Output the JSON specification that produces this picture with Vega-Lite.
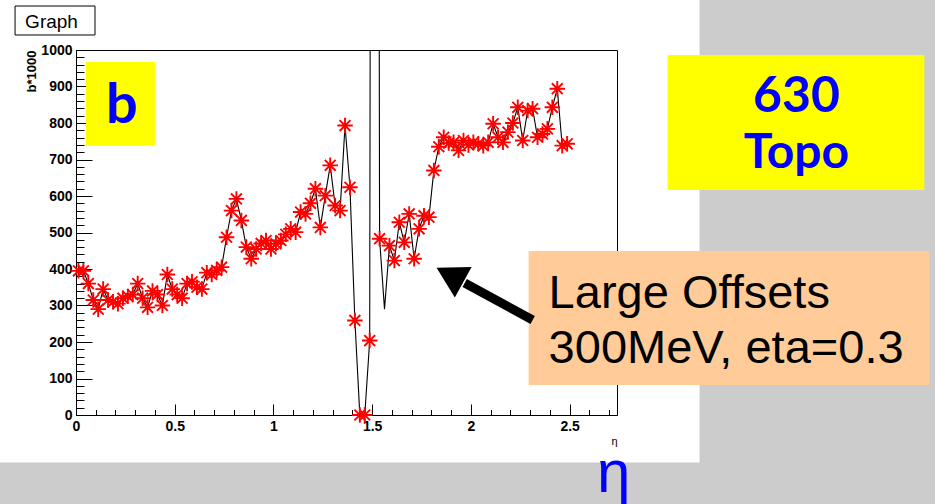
{
  "$schema": "https://vega.github.io/schema/vega-lite/v6.json",
  "width": 541,
  "height": 365,
  "autosize": "none",
  "padding": {"left": 76, "top": 50, "right": 318, "bottom": 89},
  "background": "white",
  "config": {
    "view": {"stroke": "black", "strokeWidth": 1},
    "axis": {"grid": false, "domainColor": "black", "tickColor": "black", "labelColor": "black", "titleColor": "black", "labelFont": "Liberation Sans", "titleFont": "Liberation Sans", "labelFontWeight": "bold", "labelFontSize": 14, "tickWidth": 1, "domainWidth": 1},
    "text": {"font": "Liberation Sans"}
  },
  "datasets": {
    "one": [{}],
    "graph": [
      {"eta": 0.0125, "b": 395}, {"eta": 0.0375, "b": 395}, {"eta": 0.0625, "b": 360}, {"eta": 0.0875, "b": 315},
      {"eta": 0.1125, "b": 290}, {"eta": 0.1375, "b": 345}, {"eta": 0.1625, "b": 315}, {"eta": 0.1875, "b": 310},
      {"eta": 0.2125, "b": 305}, {"eta": 0.2375, "b": 320}, {"eta": 0.2625, "b": 325}, {"eta": 0.2875, "b": 330},
      {"eta": 0.3125, "b": 360}, {"eta": 0.3375, "b": 320}, {"eta": 0.3625, "b": 295}, {"eta": 0.3875, "b": 340},
      {"eta": 0.4125, "b": 330}, {"eta": 0.4375, "b": 300}, {"eta": 0.4625, "b": 385}, {"eta": 0.4875, "b": 345},
      {"eta": 0.5125, "b": 330}, {"eta": 0.5375, "b": 320}, {"eta": 0.5625, "b": 360}, {"eta": 0.5875, "b": 365},
      {"eta": 0.6125, "b": 350}, {"eta": 0.6375, "b": 345}, {"eta": 0.6625, "b": 390}, {"eta": 0.6875, "b": 385},
      {"eta": 0.7125, "b": 396}, {"eta": 0.7375, "b": 405}, {"eta": 0.7625, "b": 487}, {"eta": 0.7875, "b": 560},
      {"eta": 0.8125, "b": 592}, {"eta": 0.8375, "b": 533}, {"eta": 0.8625, "b": 460}, {"eta": 0.8875, "b": 428},
      {"eta": 0.9125, "b": 455}, {"eta": 0.9375, "b": 470}, {"eta": 0.9625, "b": 478}, {"eta": 0.9875, "b": 455},
      {"eta": 1.0125, "b": 469}, {"eta": 1.0375, "b": 478}, {"eta": 1.0625, "b": 495}, {"eta": 1.0875, "b": 510},
      {"eta": 1.1125, "b": 501}, {"eta": 1.1375, "b": 556}, {"eta": 1.1625, "b": 551}, {"eta": 1.1875, "b": 580},
      {"eta": 1.2125, "b": 620}, {"eta": 1.2375, "b": 514}, {"eta": 1.2625, "b": 601}, {"eta": 1.2875, "b": 684},
      {"eta": 1.3125, "b": 574}, {"eta": 1.3375, "b": 560}, {"eta": 1.3625, "b": 793}, {"eta": 1.3875, "b": 624},
      {"eta": 1.4125, "b": 259}, {"eta": 1.4375, "b": 0}, {"eta": 1.4625, "b": 0}, {"eta": 1.4875, "b": 204},
      {"eta": 1.5125, "b": 9000}, {"eta": 1.5375, "b": 483}, {"eta": 1.5625, "b": 290}, {"eta": 1.5875, "b": 464},
      {"eta": 1.6125, "b": 423}, {"eta": 1.6375, "b": 528}, {"eta": 1.6625, "b": 473}, {"eta": 1.6875, "b": 551},
      {"eta": 1.7125, "b": 428}, {"eta": 1.7375, "b": 510}, {"eta": 1.7625, "b": 546}, {"eta": 1.7875, "b": 542},
      {"eta": 1.8125, "b": 670}, {"eta": 1.8375, "b": 735}, {"eta": 1.8625, "b": 761}, {"eta": 1.8875, "b": 745},
      {"eta": 1.9125, "b": 747}, {"eta": 1.9375, "b": 725}, {"eta": 1.9625, "b": 752}, {"eta": 1.9875, "b": 740},
      {"eta": 2.0125, "b": 747}, {"eta": 2.0375, "b": 743}, {"eta": 2.0625, "b": 738}, {"eta": 2.0875, "b": 747},
      {"eta": 2.1125, "b": 798}, {"eta": 2.1375, "b": 761}, {"eta": 2.1625, "b": 747}, {"eta": 2.1875, "b": 775},
      {"eta": 2.2125, "b": 800}, {"eta": 2.2375, "b": 843}, {"eta": 2.2625, "b": 752}, {"eta": 2.2875, "b": 834},
      {"eta": 2.3125, "b": 839}, {"eta": 2.3375, "b": 761}, {"eta": 2.3625, "b": 770}, {"eta": 2.3875, "b": 784},
      {"eta": 2.4125, "b": 843}, {"eta": 2.4375, "b": 894}, {"eta": 2.4625, "b": 738}, {"eta": 2.4875, "b": 743}
    ]
  },
  "resolve": {"axis": {"x": "independent", "y": "independent"}},
  "layer": [
    {
      "data": {"name": "one"},
      "mark": {"type": "rect", "color": "#cccccc"},
      "encoding": {
        "x": {"datum": 3.158, "type": "quantitative", "axis": null, "scale": {"domain": [0, 2.74], "nice": false, "zero": false}},
        "x2": {"datum": 4.45},
        "y": {"datum": -260, "type": "quantitative", "axis": null, "scale": {"domain": [0, 1000], "nice": false, "zero": false}},
        "y2": {"datum": 1150}
      }
    },
    {
      "data": {"name": "one"},
      "mark": {"type": "rect", "color": "#cccccc"},
      "encoding": {
        "x": {"datum": -0.45, "type": "quantitative", "axis": null},
        "x2": {"datum": 3.2},
        "y": {"datum": -130.1, "type": "quantitative", "axis": null},
        "y2": {"datum": -260}
      }
    },
    {
      "data": {"name": "graph"},
      "mark": {"type": "line", "color": "black", "strokeWidth": 1.1, "clip": true},
      "encoding": {
        "x": {"field": "eta", "type": "quantitative", "scale": {"domain": [0, 2.74], "nice": false, "zero": false},
          "axis": {"values": [0, 0.5, 1, 1.5, 2, 2.5], "format": "~g", "tickSize": -11, "labelPadding": 15, "labelFlush": false, "title": "η", "titleAnchor": "end", "titleFontSize": 11, "titleFontWeight": "normal", "titlePadding": 2}},
        "y": {"field": "b", "type": "quantitative", "scale": {"domain": [0, 1000], "nice": false, "zero": false},
          "axis": {"values": [0, 100, 200, 300, 400, 500, 600, 700, 800, 900, 1000], "format": "d", "tickSize": -16, "labelPadding": 20, "title": "b*1000", "titleAnchor": "end", "titleFontSize": 13, "titleFontWeight": "bold", "titlePadding": 2}}
      }
    },
    {
      "data": {"name": "graph"},
      "transform": [{"filter": "datum.b <= 1000 && datum.eta != 1.5625"}],
      "mark": {"type": "point", "shape": "M -1 0 L 1 0 M 0 -1 L 0 1 M -0.7 -0.7 L 0.7 0.7 M -0.7 0.7 L 0.7 -0.7", "filled": false, "stroke": "#ff0000", "strokeWidth": 1.9, "size": 240, "opacity": 1},
      "encoding": {
        "x": {"field": "eta", "type": "quantitative",
          "axis": {"orient": "bottom", "values": [0, 0.1, 0.2, 0.3, 0.4, 0.5, 0.6, 0.7, 0.8, 0.9, 1, 1.1, 1.2, 1.3, 1.4, 1.5, 1.6, 1.7, 1.8, 1.9, 2, 2.1, 2.2, 2.3, 2.4, 2.5, 2.6, 2.7], "tickSize": -5.5, "labels": false, "domain": false, "title": null}},
        "y": {"field": "b", "type": "quantitative",
          "axis": {"orient": "left", "values": [0, 20, 40, 60, 80, 100, 120, 140, 160, 180, 200, 220, 240, 260, 280, 300, 320, 340, 360, 380, 400, 420, 440, 460, 480, 500, 520, 540, 560, 580, 600, 620, 640, 660, 680, 700, 720, 740, 760, 780, 800, 820, 840, 860, 880, 900, 920, 940, 960, 980, 1000], "tickSize": -8, "labels": false, "domain": false, "title": null}}
      }
    },
    {
      "data": {"name": "one"},
      "mark": {"type": "rect", "fill": "white", "stroke": "black", "strokeWidth": 1},
      "encoding": {
        "x": {"datum": -0.3087, "type": "quantitative", "axis": null},
        "x2": {"datum": 0.0962},
        "y": {"datum": 1041.1, "type": "quantitative", "axis": null},
        "y2": {"datum": 1120.5}
      }
    },
    {
      "data": {"name": "one"},
      "mark": {"type": "text", "text": "Graph", "fontSize": 19, "align": "center", "baseline": "alphabetic", "color": "black"},
      "encoding": {
        "x": {"datum": -0.124, "type": "quantitative", "axis": null},
        "y": {"datum": 1059.5, "type": "quantitative", "axis": null}
      }
    },
    {
      "data": {"name": "one"},
      "mark": {"type": "rect", "color": "#ffff00"},
      "encoding": {
        "x": {"datum": 0.0506, "type": "quantitative", "axis": null},
        "x2": {"datum": 0.3998},
        "y": {"datum": 737.8, "type": "quantitative", "axis": null},
        "y2": {"datum": 967.1}
      }
    },
    {
      "data": {"name": "one"},
      "mark": {"type": "text", "text": "b", "font": "Lato", "fontWeight": "bold", "fontSize": 56, "align": "center", "baseline": "alphabetic", "color": "#0000ff"},
      "encoding": {
        "x": {"datum": 0.2328, "type": "quantitative", "axis": null},
        "y": {"datum": 800, "type": "quantitative", "axis": null}
      }
    },
    {
      "data": {"name": "one"},
      "mark": {"type": "rect", "color": "#ffff00"},
      "encoding": {
        "x": {"datum": 2.996, "type": "quantitative", "axis": null},
        "x2": {"datum": 4.2966},
        "y": {"datum": 616.4, "type": "quantitative", "axis": null},
        "y2": {"datum": 986.3}
      }
    },
    {
      "data": {"name": "one"},
      "mark": {"type": "text", "text": "630", "font": "Lato", "fontWeight": "bold", "fontSize": 50, "align": "center", "baseline": "alphabetic", "color": "#0000ff"},
      "encoding": {
        "x": {"datum": 3.649, "type": "quantitative", "axis": null},
        "y": {"datum": 830.1, "type": "quantitative", "axis": null}
      }
    },
    {
      "data": {"name": "one"},
      "mark": {"type": "text", "text": "Topo", "font": "Lato", "fontWeight": "bold", "fontSize": 48, "align": "center", "baseline": "alphabetic", "color": "#0000ff"},
      "encoding": {
        "x": {"datum": 3.649, "type": "quantitative", "axis": null},
        "y": {"datum": 676.7, "type": "quantitative", "axis": null}
      }
    },
    {
      "data": {"name": "one"},
      "mark": {"type": "rect", "color": "#ffcc99"},
      "encoding": {
        "x": {"datum": 2.2925, "type": "quantitative", "axis": null},
        "x2": {"datum": 4.3219},
        "y": {"datum": 82.2, "type": "quantitative", "axis": null},
        "y2": {"datum": 449.3}
      }
    },
    {
      "data": {"name": "one"},
      "mark": {"type": "text", "text": "Large Offsets", "fontSize": 47, "align": "left", "baseline": "alphabetic", "color": "black"},
      "encoding": {
        "x": {"datum": 2.3937, "type": "quantitative", "axis": null},
        "y": {"datum": 293.2, "type": "quantitative", "axis": null}
      }
    },
    {
      "data": {"name": "one"},
      "mark": {"type": "text", "text": "300MeV, eta=0.3", "fontSize": 47, "align": "left", "baseline": "alphabetic", "color": "black"},
      "encoding": {
        "x": {"datum": 2.3937, "type": "quantitative", "axis": null},
        "y": {"datum": 142.5, "type": "quantitative", "axis": null}
      }
    },
    {
      "data": {"name": "one"},
      "mark": {"type": "rule", "color": "black", "strokeWidth": 9, "strokeCap": "butt"},
      "encoding": {
        "x": {"datum": 2.3128, "type": "quantitative", "axis": null},
        "y": {"datum": 260.3, "type": "quantitative", "axis": null},
        "x2": {"datum": 1.9686},
        "y2": {"datum": 361.6}
      }
    },
    {
      "data": {"name": "one"},
      "mark": {"type": "point", "shape": "triangle-up", "filled": true, "color": "black", "opacity": 1, "size": 1225, "angle": 298.6},
      "encoding": {
        "x": {"datum": 1.8937, "type": "quantitative", "axis": null},
        "y": {"datum": 383.6, "type": "quantitative", "axis": null}
      }
    },
    {
      "data": {"name": "one"},
      "mark": {"type": "text", "text": "η", "fontSize": 60, "align": "center", "baseline": "alphabetic", "color": "#0000ff"},
      "encoding": {
        "x": {"datum": 2.7227, "type": "quantitative", "axis": null},
        "y": {"datum": -212, "type": "quantitative", "axis": null}
      }
    }
  ]
}
